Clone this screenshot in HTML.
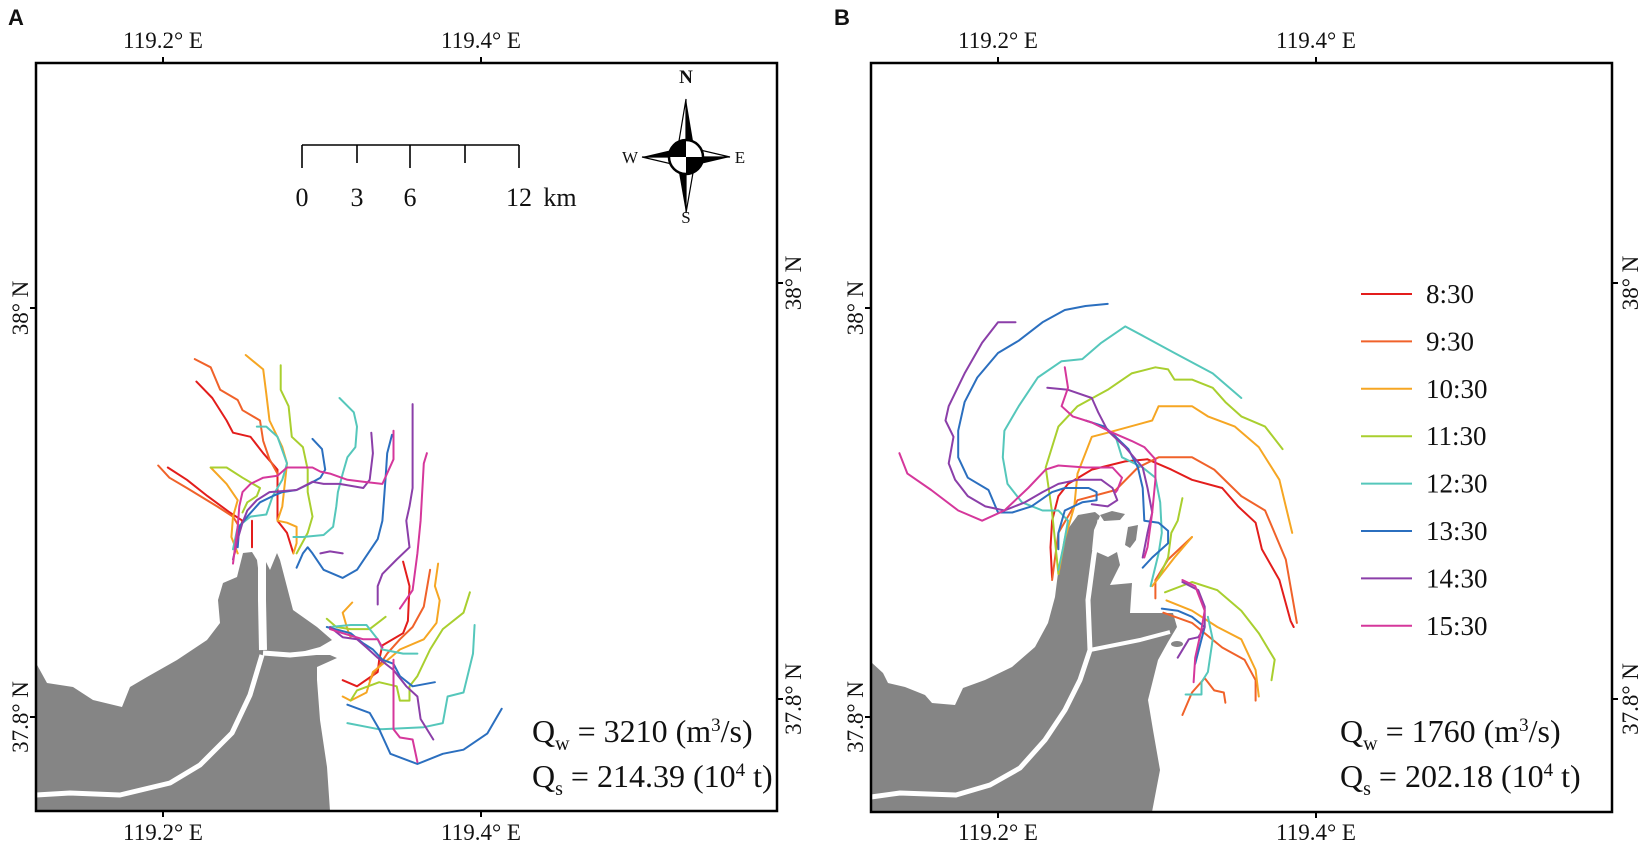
<!DOCTYPE html>
<html><head><meta charset="utf-8"><style>
html,body{margin:0;padding:0;background:#fff;}
svg{display:block;}
text{font-family:"Liberation Serif",serif;fill:#111;}
</style></head><body>
<svg id="fig" width="1646" height="847" viewBox="0 0 1646 847" xmlns="http://www.w3.org/2000/svg">
<rect width="1646" height="847" fill="#fff"/>
<!-- Panel A land -->
<g>
<polygon fill="#858585" points="36,663 47,683 73,687 93,700 122,707 130,687 147,677 177,660 207,640 220,623 218,600 223,583 237,577 243,553 252,552 257,560 262,600 265,560 270,570 277,553 280,560 293,610 317,627 332,640 320,647 290,655 330,655 337,658 317,667 317,680 320,720 327,767 330,811 36,811"/>
<polyline fill="none" stroke="#fff" stroke-width="8" points="262,556 262,600 263,650"/>
<polyline fill="none" stroke="#fff" stroke-width="5" stroke-linejoin="round" points="263,653 290,655 332,651"/>
<polyline fill="none" stroke="#fff" stroke-width="5" stroke-linejoin="round" points="36,795 70,793 120,795 170,783 200,765 232,733 250,695 262,655"/>
</g>
<!-- Panel B land -->
<g>
<polygon fill="#858585" points="871,662 883,673 888,683 905,687 925,695 932,703 955,705 963,688 985,680 1012,667 1035,647 1048,623 1055,597 1058,573 1065,533 1078,515 1095,512 1100,516 1094,530 1092,550 1108,557 1117,552 1120,565 1110,585 1132,583 1130,613 1173,613 1177,627 1168,642 1158,660 1153,680 1148,700 1153,730 1160,770 1152,812 871,812"/>
<polygon fill="#858585" points="1100,515 1112,511 1125,514 1120,520 1104,521"/>
<polygon fill="#858585" points="1128,527 1138,525 1136,540 1130,548 1125,545"/>
<ellipse fill="#858585" cx="1177" cy="644" rx="6" ry="3"/>
<polyline fill="none" stroke="#fff" stroke-width="5" stroke-linejoin="round" points="871,797 900,793 956,795 990,785 1020,768 1045,740 1065,710 1080,680 1090,650 1088,600 1094,555 1100,520"/>
<polyline fill="none" stroke="#fff" stroke-width="4" stroke-linejoin="round" points="1090,650 1110,646 1140,640 1170,632"/>
</g>
<g id="tracks"></g>
<!-- frames -->
<rect x="36" y="63" width="741" height="748" fill="none" stroke="#000" stroke-width="2.5"/>
<rect x="871" y="63" width="741" height="749" fill="none" stroke="#000" stroke-width="2.5"/>
<g id="axes"></g>
<!-- panel labels -->
<text x="8" y="25" style="font-family:'Liberation Sans',sans-serif;font-weight:bold;font-size:22px">A</text>
<text x="834" y="25" style="font-family:'Liberation Sans',sans-serif;font-weight:bold;font-size:22px">B</text>
<!-- scale bar -->
<g stroke="#000" stroke-width="1.6">
<line x1="302" y1="145" x2="519" y2="145"/>
<line x1="302" y1="145" x2="302" y2="168"/><line x1="357" y1="145" x2="357" y2="163"/>
<line x1="410" y1="145" x2="410" y2="168"/><line x1="465" y1="145" x2="465" y2="163"/>
<line x1="519" y1="145" x2="519" y2="168"/>
</g>
<g style="font-size:26px" text-anchor="middle">
<text x="302" y="206">0</text><text x="357" y="206">3</text><text x="410" y="206">6</text><text x="519" y="206">12</text><text x="560" y="206">km</text>
</g>
<!-- compass -->
<g transform="translate(686,157)">
<polygon points="0,-58 8,-10 0,0" fill="#000"/><polygon points="0,-58 -8,-10 0,0" fill="#fff" stroke="#000" stroke-width="1.2"/>
<polygon points="0,56 -8,10 0,0" fill="#000"/><polygon points="0,56 8,10 0,0" fill="#fff" stroke="#000" stroke-width="1.2"/>
<polygon points="44,0 10,8 0,0" fill="#000"/><polygon points="44,0 10,-8 0,0" fill="#fff" stroke="#000" stroke-width="1.2"/>
<polygon points="-44,0 -10,-8 0,0" fill="#000"/><polygon points="-44,0 -10,8 0,0" fill="#fff" stroke="#000" stroke-width="1.2"/>
<circle r="17" fill="#fff" stroke="#000" stroke-width="2.5"/>
<path d="M0,0 L0,-17 A17,17 0 0 0 -17,0 Z" fill="#000"/><path d="M0,0 L0,17 A17,17 0 0 0 17,0 Z" fill="#000"/>
<text x="0" y="-74" text-anchor="middle" style="font-size:19px;font-weight:bold">N</text>
<text x="0" y="66" text-anchor="middle" style="font-size:17px">S</text>
<text x="-56" y="6" text-anchor="middle" style="font-size:17px">W</text>
<text x="54" y="6" text-anchor="middle" style="font-size:17px">E</text>
</g>
<!-- discharge annotations -->
<text x="532" y="742" style="font-size:32px">Q<tspan dy="8" font-size="20">w</tspan><tspan dy="-8"> = 3210 (m</tspan><tspan dy="-11" font-size="19">3</tspan><tspan dy="11">/s)</tspan></text>
<text x="532" y="787" style="font-size:32px">Q<tspan dy="8" font-size="20">s</tspan><tspan dy="-8"> = 214.39 (10</tspan><tspan dy="-11" font-size="19">4</tspan><tspan dy="11"> t)</tspan></text>
<text x="1340" y="742" style="font-size:32px">Q<tspan dy="8" font-size="20">w</tspan><tspan dy="-8"> = 1760 (m</tspan><tspan dy="-11" font-size="19">3</tspan><tspan dy="11">/s)</tspan></text>
<text x="1340" y="787" style="font-size:32px">Q<tspan dy="8" font-size="20">s</tspan><tspan dy="-8"> = 202.18 (10</tspan><tspan dy="-11" font-size="19">4</tspan><tspan dy="11"> t)</tspan></text>
<g id="legend"></g>
</svg>
<script>
// time labels of each drifter release
const times = ["8:30","9:30","10:30","11:30","12:30","13:30","14:30","15:30"];
const lonTicks = [119.2, 119.4];
const lonTickLabels = ["119.2° E","119.4° E"];
const latTickLabels = ["38° N","37.8° N"];
// trajectories: flat pairs [dLon, dLatSouth] in units of 0.001° from 119.2°E / 38°N
const a0830 = [[21,36,31,44,40,55,44,61,55,63,63,71,72,79,72,90,72,104,78,110,82,120],[3,78,15,84,28,92,42,100,50,104,47,112,45,120],[56,104,56,117],[151,124,155,136,154,153,151,159,138,165,136,172,135,178,122,185,113,182]];
const a0930 = [[20,25,30,29,36,40,47,45,50,50,61,55,63,65,67,74,72,81],[-3,77,4,83,15,88,34,97,44,102,48,107,45,118],[168,128,164,146,157,156,149,162,141,169,135,176,130,182]];
const a1030 = [[52,23,63,30,65,42,67,55,75,68,78,76,75,97,72,104,78,105,84,107,84,115,82,120],[30,78,40,86,47,94,44,102,43,112,47,120],[173,125,171,136,174,143,172,154,164,162,149,167,143,171,132,178,128,188,118,192,113,190],[119,144,113,149,116,157,118,161]];
const a1130 = [[74,28,74,40,79,48,81,63,88,68,91,79,91,90,94,102,91,110,84,120],[30,78,40,78,50,83,61,88,59,92,53,95,50,100],[193,139,189,149,176,157,168,167,160,180,155,185,155,192,149,192,147,185,136,183,122,187,118,192],[103,152,109,156,118,157,130,157,140,151]];
const a1230 = [[111,44,120,51,122,58,121,68,116,73,113,81,110,90,109,97,107,107,101,111,88,112,82,112],[59,58,65,58,72,63,78,76,75,84,69,92,65,101,55,102,47,107,44,118],[196,155,195,169,189,188,179,190,176,203,164,205,136,206,116,203],[105,156,118,155,128,155,135,162,138,167,151,169,160,169]];
const a1330 = [[94,64,100,69,102,79,99,83,92,86,84,89,75,90,69,92,61,95,53,102,48,107,47,117],[144,62,141,71,140,83,138,104,135,113,122,128,113,132,101,128,94,120,91,117,88,120,84,127],[103,156,118,159,126,164,132,167,138,172,145,174,149,180,157,185,171,183],[116,194,130,198,136,206,143,218,160,223,176,218,189,216,204,208,213,196]];
const a1430 = [[157,47,157,71,157,88,155,97,153,104,155,117,147,123,138,130,135,136,135,145],[131,61,132,71,130,84,126,88,111,86,101,86,94,85,84,89,67,90,59,94,53,99,50,105,47,113,44,123],[99,120,105,119,113,120],[105,156,113,161,122,162,128,166,135,171,145,177,153,185,160,190,162,201,170,211]];
const a1530 = [[145,60,145,74,138,86,126,85,116,84,105,81,99,80,94,78,78,78,72,82,63,83,55,86,50,90,48,97,47,107,44,125],[166,71,164,76,162,104,160,120,157,138,149,147],[145,172,145,206,149,210,157,211,160,222],[105,157,113,159,126,162,135,162,138,166]];
const b0830 = [[34,132,33,117,34,104,38,92,44,86,59,79,80,75,94,74,109,79,122,84,141,88,151,97,162,105,166,118,177,133,184,153,186,156]];
const b0930 = [[34,133,38,110,50,94,74,89,88,78,101,73,122,73,136,79,153,92,168,99,181,123,188,154],[99,142,99,133,107,123,122,112],[116,199,122,188,130,181,136,187,142,188,143,193],[104,149,122,154,141,166,155,172,162,182,162,192]];
const b1030 = [[38,130,42,113,48,97,50,81,59,63,69,61,97,55,101,48,122,48,132,53,149,58,164,68,177,84,185,110],[97,136,111,122,122,112],[106,143,122,148,138,156,153,162,162,177,164,190]];
const b1130 = [[38,130,34,100,30,78,38,58,50,48,69,40,84,32,99,29,107,30,111,35,122,35,135,39,143,46,153,53,168,58,179,69],[116,93,113,104,109,110,107,122,101,132],[105,139,122,134,138,138,153,148,164,159,174,172,172,182]];
const b1230 = [[153,44,135,32,111,22,92,14,80,9,65,17,53,25,40,26,25,34,13,48,4,60,3,73,6,86,15,95,28,99,38,99,44,104,41,117,38,128],[74,63,78,73,91,78,99,83,102,95,103,110,101,120,96,136],[132,151,135,162,132,178,128,183,128,189,118,189]];
const b1330 = [[69,-2,55,-1,42,1,28,7,13,16,0,22,-13,34,-21,46,-25,60,-25,73,-19,83,-6,89,0,100,9,100,21,97,34,90,42,88,57,88,62,90,62,94,53,95,42,99,38,110,38,118],[55,55,67,58,74,63,82,69,88,78,91,88,92,104,101,105,107,109,107,115,97,122,91,127],[103,147,113,148,122,151,130,156,128,162,124,174]];
const b1430 = [[11,7,0,7,-10,17,-21,32,-31,48,-33,55,-28,63,-31,76,-27,84,-19,92,-8,97,4,99,17,95,28,90,38,86,50,84,65,84,72,88,75,94,69,97,59,96],[31,39,44,40,59,44,63,51,69,60,80,68,91,78,94,88,97,100,94,110,91,122],[116,134,126,138,130,146,130,156,126,161,120,162,113,171]];
const b1530 = [[-62,71,-57,81,-42,89,-25,99,-10,104,4,99,19,88,30,79,38,77,55,78,72,78,78,83,75,89,74,90],[42,29,44,39,40,48,47,53,59,56,72,61,84,65,92,68,99,74,99,84,97,100,94,117,92,122],[116,133,124,136,130,148,128,157,124,171,123,183]];

const palette = ["#e31d1c","#f0622a","#f6a623","#a9cf2f","#55c7bb","#2b6fbf","#8b3fa9","#d5379b"];
const NS = "http://www.w3.org/2000/svg";
function projX(panel, lon){ return (panel === "a" ? 163 : 998) + (lon - 119.2) * 1590; }
function projY(lat){ return 308 + (38 - lat) * 2045; }
const tracks = document.getElementById("tracks");
const panelSeries = {a:[a0830,a0930,a1030,a1130,a1230,a1330,a1430,a1530], b:[b0830,b0930,b1030,b1130,b1230,b1330,b1430,b1530]};
for (const panel of ["a","b"]) {
  panelSeries[panel].forEach((lines, si) => {
    lines.forEach((arr, li) => {
      const pts = [];
      for (let i = 0; i < arr.length; i += 2) {
        const lon = 119.2 + arr[i] / 1000, lat = 38 - arr[i + 1] / 1000;
        pts.push(projX(panel, lon).toFixed(1) + "," + projY(lat).toFixed(1));
      }
      const pl = document.createElementNS(NS, "polyline");
      pl.setAttribute("points", pts.join(" "));
      pl.setAttribute("fill", "none");
      pl.setAttribute("stroke", palette[si]);
      pl.setAttribute("stroke-width", "2");
      pl.setAttribute("stroke-linejoin", "round");
      pl.setAttribute("stroke-linecap", "round");
      
      
      tracks.appendChild(pl);
    });
  });
}
// axes ticks & labels
const axes = document.getElementById("axes");
function add(tag, attrs, text){
  const e = document.createElementNS(NS, tag);
  for (const k in attrs) e.setAttribute(k, attrs[k]);
  if (text) e.textContent = text;
  axes.appendChild(e); return e;
}
const frames = {a:{l:36,r:777,t:63,b:811,latL:[308,717],latR:[283,699],labL:20,labR:793},
                b:{l:871,r:1612,t:63,b:812,latL:[308,717],latR:[283,699],labL:855,labR:1630}};
for (const panel of ["a","b"]) {
  const f = frames[panel];
  lonTicks.forEach((lon, i) => {
    const x = projX(panel, lon);
    let t = add("line", {x1:x, y1:f.t, x2:x, y2:f.t-6, stroke:"#000", "stroke-width":2});
    
    
    t = add("line", {x1:x, y1:f.b, x2:x, y2:f.b+6, stroke:"#000", "stroke-width":2});
    
    
    let lb = add("text", {x:x, y:48, "text-anchor":"middle", style:"font-size:23px"}, lonTickLabels[i]);
    
    
    lb = add("text", {x:x, y:840, "text-anchor":"middle", style:"font-size:23px"}, lonTickLabels[i]);
    
    
  });
  latTickLabels.forEach((lab, i) => {
    const yl = f.latL[i], yr = f.latR[i];
    let t = add("line", {x1:f.l, y1:yl, x2:f.l-6, y2:yl, stroke:"#000", "stroke-width":2});
    
    
    t = add("line", {x1:f.r, y1:yr, x2:f.r+6, y2:yr, stroke:"#000", "stroke-width":2});
    
    
    let lb = add("text", {x:0, y:0, "text-anchor":"middle", transform:`translate(${f.labL+8},${yl}) rotate(-90)`, style:"font-size:23px"}, lab);
    
    
    lb = add("text", {x:0, y:0, "text-anchor":"middle", transform:`translate(${f.labR+8},${yr}) rotate(-90)`, style:"font-size:23px"}, lab);
    
    
  });
}
// legend
const legend = document.getElementById("legend");
times.forEach((t, i) => {
  const y = 294 + i * 47.4;
  const ln = document.createElementNS(NS, "line");
  ln.setAttribute("x1", 1361); ln.setAttribute("x2", 1412);
  ln.setAttribute("y1", y); ln.setAttribute("y2", y);
  ln.setAttribute("stroke", palette[i]); ln.setAttribute("stroke-width", "2");
  
  
  legend.appendChild(ln);
  const tx = document.createElementNS(NS, "text");
  tx.setAttribute("x", 1426); tx.setAttribute("y", y + 9);
  tx.setAttribute("style", "font-size:27px");
  tx.textContent = t;
  
  
  legend.appendChild(tx);
});
</script>
</body></html>
